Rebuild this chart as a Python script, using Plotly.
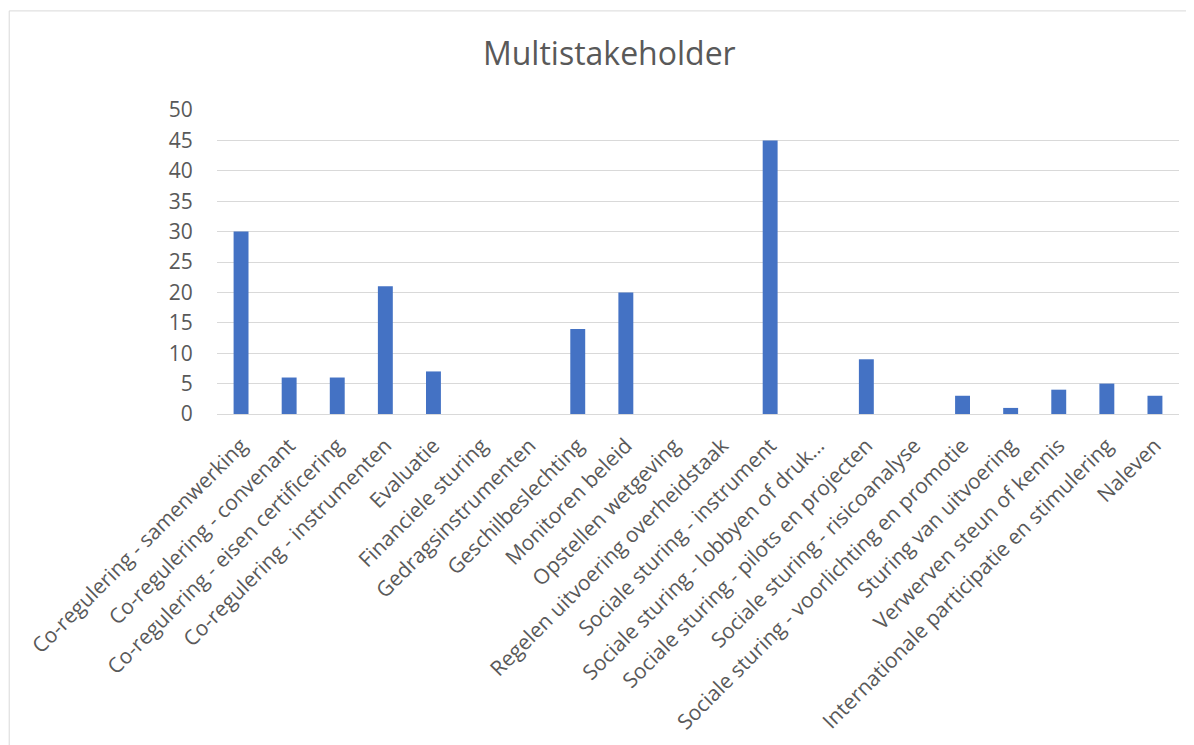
import plotly.graph_objects as go

categories = [
    "Co-regulering - samenwerking",
    "Co-regulering - convenant",
    "Co-regulering - eisen certificering",
    "Co-regulering - instrumenten",
    "Evaluatie",
    "Financiele sturing",
    "Gedragsinstrumenten",
    "Geschilbeslechting",
    "Monitoren beleid",
    "Opstellen wetgeving",
    "Regelen uitvoering overheidstaak",
    "Sociale sturing - instrument",
    "Sociale sturing - lobbyen of druk…",
    "Sociale sturing - pilots en projecten",
    "Sociale sturing - risicoanalyse",
    "Sociale sturing - voorlichting en promotie",
    "Sturing van uitvoering",
    "Verwerven steun of kennis",
    "Internationale participatie en stimulering",
    "Naleven",
]
values = [30, 6, 6, 21, 7, 0, 0, 14, 20, 0, 0, 45, 0, 9, 0, 3, 1, 4, 5, 3]
y_ticks = [0, 5, 10, 15, 20, 25, 30, 35, 40, 45, 50]

FONT = "Open Sans"
GREY = "#595959"

fig = go.Figure(
    go.Bar(
        x=categories,
        y=values,
        marker=dict(color="#4472C4", line=dict(width=0)),
        width=0.31,
    )
)

fig.update_layout(
    width=1186,
    height=737,
    paper_bgcolor="white",
    plot_bgcolor="white",
    margin=dict(l=209, r=15, t=102, b=331, autoexpand=False),
    title=dict(
        text="Multistakeholder",
        x=0.507,
        xanchor="center",
        y=0.938,
        yanchor="middle",
        font=dict(family=FONT, size=32, color=GREY),
    ),
    showlegend=False,
    bargap=0.69,
)

fig.update_xaxes(
    tickangle=-45,
    tickfont=dict(family=FONT, size=21, color=GREY),
    showgrid=False,
    showline=True,
    linecolor="#d9d9d9",
    linewidth=1,
    ticks="outside",
    ticklen=10,
    tickcolor="rgba(0,0,0,0)",
    automargin=False,
)
fig.update_yaxes(
    range=[0, 50],
    tickvals=y_ticks,
    tickfont=dict(family=FONT, size=21, color=GREY),
    showgrid=True,
    gridcolor="#d9d9d9",
    gridwidth=1,
    zeroline=False,
    showline=False,
    ticks="outside",
    ticklen=19,
    tickcolor="rgba(0,0,0,0)",
    automargin=False,
)

fig.add_shape(
    type="rect",
    xref="paper",
    yref="paper",
    x0=-0.216,
    x1=1.2,
    y0=-1.5,
    y1=1.326,
    line=dict(color="#d9d9d9", width=1),
    fillcolor="rgba(0,0,0,0)",
    layer="below",
)

fig.write_html("out.html")
